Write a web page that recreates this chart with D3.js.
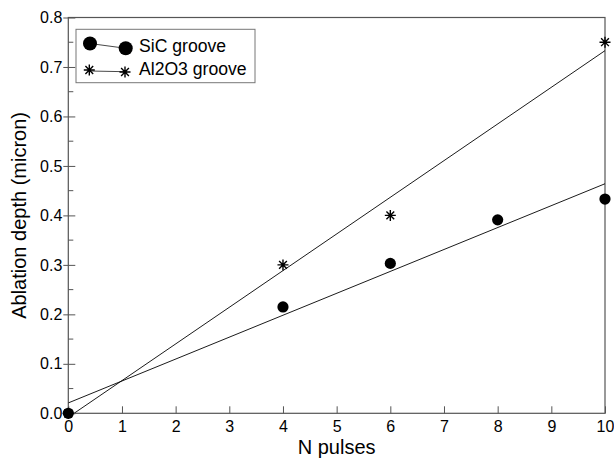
<!DOCTYPE html>
<html><head><meta charset="utf-8">
<script src="https://cdn.jsdelivr.net/npm/d3@7"></script>
<style>body{margin:0;background:#fff}svg{display:block;font-family:"Liberation Sans",Arial,sans-serif}</style>
</head><body>
<svg id="c" width="614" height="458"></svg>
<script>
const sicX = [0, 4, 6, 8, 10];
const sicY = [0, 0.215, 0.303, 0.391, 0.433];
const alX = [0, 4, 6, 10];
const alY = [0, 0.30, 0.40, 0.75];
const sicFit = [[0, 0.021], [10, 0.464]];
const alFit = [[0, -0.008], [10, 0.733]];
const xTicks = [0,1,2,3,4,5,6,7,8,9,10];
const yTicks = [0,0.1,0.2,0.3,0.4,0.5,0.6,0.7,0.8];
const yMinor = [0.05,0.15,0.25,0.35,0.45,0.55,0.65,0.75];
const seriesNames = ["SiC groove", "Al2O3 groove"];

const svg = d3.select("#c");
const L = 68.3, R = 605, T = 17.5, B = 413.3;
const x = d3.scaleLinear().domain([0,10]).range([L,R]);
const y = d3.scaleLinear().domain([0,0.8]).range([B,T]);

svg.append("defs").append("clipPath").attr("id","clip")
  .append("rect").attr("x",L).attr("y",T).attr("width",R-L).attr("height",B-T);

// frame
svg.append("rect").attr("x",L).attr("y",T).attr("width",R-L).attr("height",B-T)
  .attr("fill","none").attr("stroke","#555").attr("stroke-width",1.2);

// x axis
const xa = svg.append("g").attr("transform",`translate(0,${B})`)
  .call(d3.axisBottom(x).tickValues(xTicks).tickFormat(d3.format("d")).tickSize(-7).tickPadding(7));
xa.select(".domain").remove();
xa.selectAll("line").attr("stroke","#555");
xa.selectAll("text").attr("font-size",16).attr("fill","#000").attr("font-family","Liberation Sans, Arial, sans-serif");

// y axis
const ya = svg.append("g").attr("transform",`translate(${L},0)`)
  .call(d3.axisLeft(y).tickValues(yTicks).tickFormat(d3.format(".1f")).tickSize(5).tickPadding(1));
ya.select(".domain").remove();
ya.selectAll("line").attr("stroke","#555").attr("x2",7).attr("x1",-5);
ya.selectAll("text").attr("font-size",16).attr("fill","#000").attr("font-family","Liberation Sans, Arial, sans-serif");
svg.append("g").selectAll("line").data(yMinor).join("line")
  .attr("x1",L).attr("x2",L+5).attr("y1",d=>y(d)).attr("y2",d=>y(d)).attr("stroke","#555");

// titles
svg.append("text").attr("x",(L+R)/2).attr("y",454).attr("text-anchor","middle")
  .attr("font-size",20).text("N pulses");
svg.append("text").attr("transform",`translate(26,${(T+B)/2}) rotate(-90)`).attr("text-anchor","middle")
  .attr("font-size",20).text("Ablation depth (micron)");

// fits
const line = d3.line().x(d=>x(d[0])).y(d=>y(d[1]));
const pg = svg.append("g").attr("clip-path","url(#clip)");
pg.append("path").attr("d",line(sicFit)).attr("stroke","#000").attr("stroke-width",0.9).attr("fill","none");
pg.append("path").attr("d",line(alFit)).attr("stroke","#000").attr("stroke-width",0.9).attr("fill","none");

function star(g, cx, cy, s){
  const a = s/2, b = a*0.707;
  const p = `M${cx-a},${cy}L${cx+a},${cy}M${cx},${cy-a}L${cx},${cy+a}M${cx-b},${cy-b}L${cx+b},${cy+b}M${cx-b},${cy+b}L${cx+b},${cy-b}`;
  g.append("path").attr("d",p).attr("stroke","#000").attr("stroke-width",1.4).attr("fill","none");
}
const mg = svg.append("g");
alX.forEach((d,i)=>star(mg, x(d), y(alY[i]), 11));
mg.selectAll("circle").data(sicX).join("circle")
  .attr("cx",d=>x(d)).attr("cy",(d,i)=>y(sicY[i])).attr("r",5.6).attr("fill","#000");

// legend
const lg = svg.append("g");
lg.append("rect").attr("x",76).attr("y",29.3).attr("width",179).attr("height",53.4)
  .attr("fill","#fff").attr("stroke","#777").attr("stroke-width",1);
lg.append("line").attr("x1",90).attr("y1",43.5).attr("x2",125.7).attr("y2",48.3).attr("stroke","#333").attr("stroke-width",0.9);
lg.append("circle").attr("cx",90).attr("cy",43.5).attr("r",7).attr("fill","#000");
lg.append("circle").attr("cx",125.7).attr("cy",48.3).attr("r",7).attr("fill","#000");
lg.append("text").attr("x",139).attr("y",52).attr("font-size",17.6).text(seriesNames[0]);
lg.append("line").attr("x1",89.3).attr("y1",71).attr("x2",125).attr("y2",71.7).attr("stroke","#333").attr("stroke-width",0.9);
star(lg, 89.3, 70, 11);
star(lg, 125, 72, 11);
lg.append("text").attr("x",139).attr("y",75).attr("font-size",17.6).text(seriesNames[1]);
</script>
</body></html>
